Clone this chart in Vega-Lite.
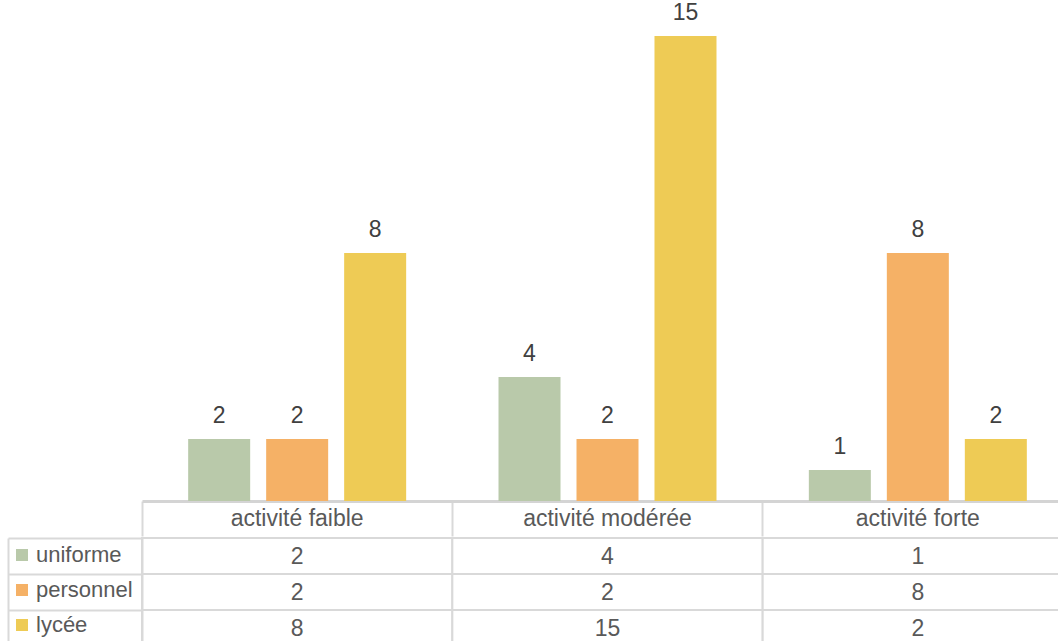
{
  "$schema": "https://vega.github.io/schema/vega-lite/v6.json",
  "background": "white",
  "padding": {"top": 2, "left": 7, "right": 0, "bottom": 0},
  "config": {"view": {"stroke": null}, "font": "Liberation Sans", "concat": {"spacing": 0}},
  "datasets": {
    "d": [
      {"category": "activité faible", "series": "uniforme", "value": 2},
      {"category": "activité faible", "series": "personnel", "value": 2},
      {"category": "activité faible", "series": "lycée", "value": 8},
      {"category": "activité modérée", "series": "uniforme", "value": 4},
      {"category": "activité modérée", "series": "personnel", "value": 2},
      {"category": "activité modérée", "series": "lycée", "value": 15},
      {"category": "activité forte", "series": "uniforme", "value": 1},
      {"category": "activité forte", "series": "personnel", "value": 8},
      {"category": "activité forte", "series": "lycée", "value": 2}
    ]
  },
  "vconcat": [
    {
      "width": 931,
      "height": 496,
      "data": {"name": "d"},
      "encoding": {
        "x": {
          "field": "category", "type": "nominal",
          "sort": ["activité faible", "activité modérée", "activité forte"],
          "scale": {"paddingInner": 0, "paddingOuter": 0},
          "axis": {
            "title": null, "labelAngle": 0, "bandPosition": 0,
            "tickSize": 35, "tickColor": "#d9d9d9", "tickWidth": 2,
            "domainColor": "#d4d4d4", "domainWidth": 3,
            "labelPadding": -29, "labelFontSize": 23, "labelColor": "#595959",
            "labelFont": "Liberation Sans"
          }
        },
        "xOffset": {
          "field": "series", "type": "nominal",
          "sort": ["uniforme", "personnel", "lycée"],
          "scale": {"paddingInner": 0.205, "paddingOuter": 0.592}
        },
        "y": {
          "field": "value", "type": "quantitative",
          "scale": {"domain": [0, 16]},
          "axis": null
        }
      },
      "layer": [
        {
          "mark": {"type": "bar"},
          "encoding": {
            "color": {
              "field": "series", "type": "nominal",
              "sort": ["uniforme", "personnel", "lycée"],
              "scale": {"domain": ["uniforme", "personnel", "lycée"], "range": ["#b9c9aa", "#f5b166", "#eecb55"]},
              "legend": {
                "orient": "none", "legendX": -131, "legendY": 539,
                "title": null, "symbolType": "square", "symbolSize": 144,
                "symbolStrokeWidth": 0, "labelFontSize": 22, "labelColor": "#595959",
                "labelFont": "Liberation Sans",
                "labelOffset": 3, "rowPadding": 13
              }
            }
          }
        },
        {
          "mark": {"type": "text", "baseline": "bottom", "dy": -11, "fontSize": 23, "color": "#404040"},
          "encoding": {"text": {"field": "value", "type": "quantitative"}}
        }
      ]
    },
    {
      "width": 931,
      "height": 108,
      "data": {"name": "d"},
      "encoding": {
        "x": {
          "field": "category", "type": "nominal",
          "sort": ["activité faible", "activité modérée", "activité forte"],
          "scale": {"paddingInner": 0, "paddingOuter": 0},
          "axis": null
        },
        "y": {
          "field": "series", "type": "nominal",
          "sort": ["uniforme", "personnel", "lycée"],
          "scale": {"paddingInner": 0, "paddingOuter": 0}
        }
      },
      "layer": [
        {
          "mark": {"type": "rect", "fill": "white", "stroke": "#d9d9d9", "strokeWidth": 2},
          "encoding": {
            "y": {
              "field": "series", "type": "nominal",
              "sort": ["uniforme", "personnel", "lycée"],
              "axis": {
                "title": null, "labels": false, "bandPosition": 0,
                "tickSize": 134, "tickColor": "#d9d9d9", "tickWidth": 2,
                "domainColor": "#d9d9d9", "domainWidth": 2
              }
            }
          }
        },
        {
          "mark": {"type": "text", "fontSize": 23, "color": "#595959", "dy": 1},
          "encoding": {
            "text": {"field": "value", "type": "quantitative"},
            "y": {
              "field": "series", "type": "nominal",
              "sort": ["uniforme", "personnel", "lycée"],
              "axis": {
                "title": null, "orient": "left", "offset": 134, "labels": false, "ticks": false,
                "domainColor": "#d9d9d9", "domainWidth": 2
              }
            }
          }
        }
      ],
      "resolve": {"axis": {"y": "independent"}}
    }
  ]
}
